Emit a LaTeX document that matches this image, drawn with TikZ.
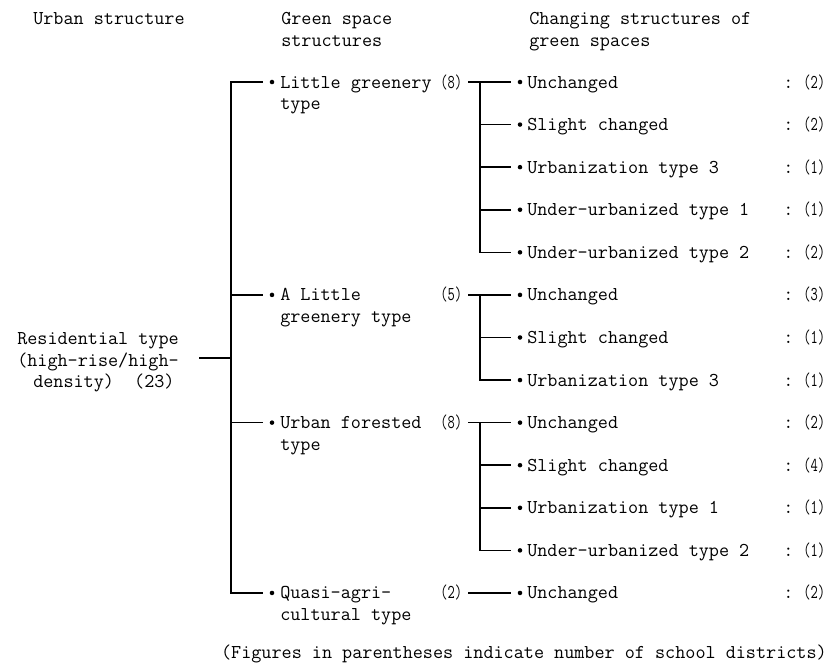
\documentclass[tikz,border=0pt]{standalone}
\begin{document}
\begin{tikzpicture}[x=0.75pt,y=-0.75pt,
  txt/.style={anchor=base west, inner sep=0pt, font=\fontsize{14.7}{16}\selectfont\ttfamily},
  ln/.style={line width=1.2pt, line cap=rect},
  bul/.style={circle, fill=black, inner sep=0pt, minimum size=3.4pt}]
\newcommand\narrowcount[1]{\scalebox{0.72}[1]{(#1)}}
\useasboundingbox (0,0) rectangle (829,668);
% headers
\node[txt] (h1) at (33,24) {Urban structure};
\node[txt] (h2) at (281,24) {Green space};
\node[txt] (h2b) at (281,46) {structures};
\node[txt] (h3) at (529,24) {Changing structures of};
\node[txt] (h3b) at (529,46) {green spaces};
% root
\node[txt] (r1) at (17,344) {Residential type};
\node[txt] (r2) at (17,366) {(high-rise/high-};
\node[txt] (r3) at (33,387) {density)\ \ (23)};
\coordinate (R) at (200,358);
\coordinate (LR) at (231,358);
\coordinate (L0) at (231,82);
\coordinate (L12) at (231,593);
\draw[ln] (R) -- (LR);
\draw[ln] (L0) -- (L12);
% middle column
\foreach \i/\a/\b/\n in {0/Little greenery/type/8, 5/A Little/greenery type/5, 8/Urban forested/type/8, 12/Quasi-agri-/cultural type/2}{
  \pgfmathsetmacro\yy{82+42.58*\i}
  \coordinate (Lb\i) at (231,\yy);
  \coordinate (Le\i) at (262,\yy);
  \node[bul] (gb\i) at (272,\yy) {};
  \node[txt] (g\i) at (280,\yy+6) {\a};
  \node[txt] (gs\i) at (280,\yy+27.5) {\b};
  \node[txt] (k\i) at (440,\yy+6) {\narrowcount{\n}};
  \coordinate (s\i) at (469,\yy);
  \draw[ln] (Lb\i) -- (Le\i);
}
% right column
\foreach \i/\t/\n in {0/Unchanged/2, 1/Slight changed/2, 2/Urbanization type 3/1, 3/Under-urbanized type 1/1, 4/Under-urbanized type 2/2,
  5/Unchanged/3, 6/Slight changed/1, 7/Urbanization type 3/1,
  8/Unchanged/2, 9/Slight changed/4, 10/Urbanization type 1/1, 11/Under-urbanized type 2/1,
  12/Unchanged/2}{
  \pgfmathsetmacro\yy{82+42.58*\i}
  \coordinate (m\i) at (480,\yy);
  \coordinate (e\i) at (510,\yy);
  \node[bul] (b\i) at (520,\yy) {};
  \node[txt] (c\i) at (527,\yy+6) {\t};
  \node[txt] (n\i) at (783,\yy+6) {:\ \narrowcount{\n}};
}
% connectors from green types to their sub-lists
\draw[ln] (s0) -- (e0);
\draw[ln] (m0) -- (m4);
\foreach \i in {1,2,3,4} {\draw[ln] (m\i) -- (e\i);}
\draw[ln] (s5) -- (e5);
\draw[ln] (m5) -- (m7);
\foreach \i in {6,7} {\draw[ln] (m\i) -- (e\i);}
\draw[ln] (s8) -- (e8);
\draw[ln] (m8) -- (m11);
\foreach \i in {9,10,11} {\draw[ln] (m\i) -- (e\i);}
\draw[ln] (s12) -- (e12);
% footer
\node[txt, anchor=base east] (foot) at (827,658) {(Figures in parentheses indicate number of school districts)};
\end{tikzpicture}
\end{document}
